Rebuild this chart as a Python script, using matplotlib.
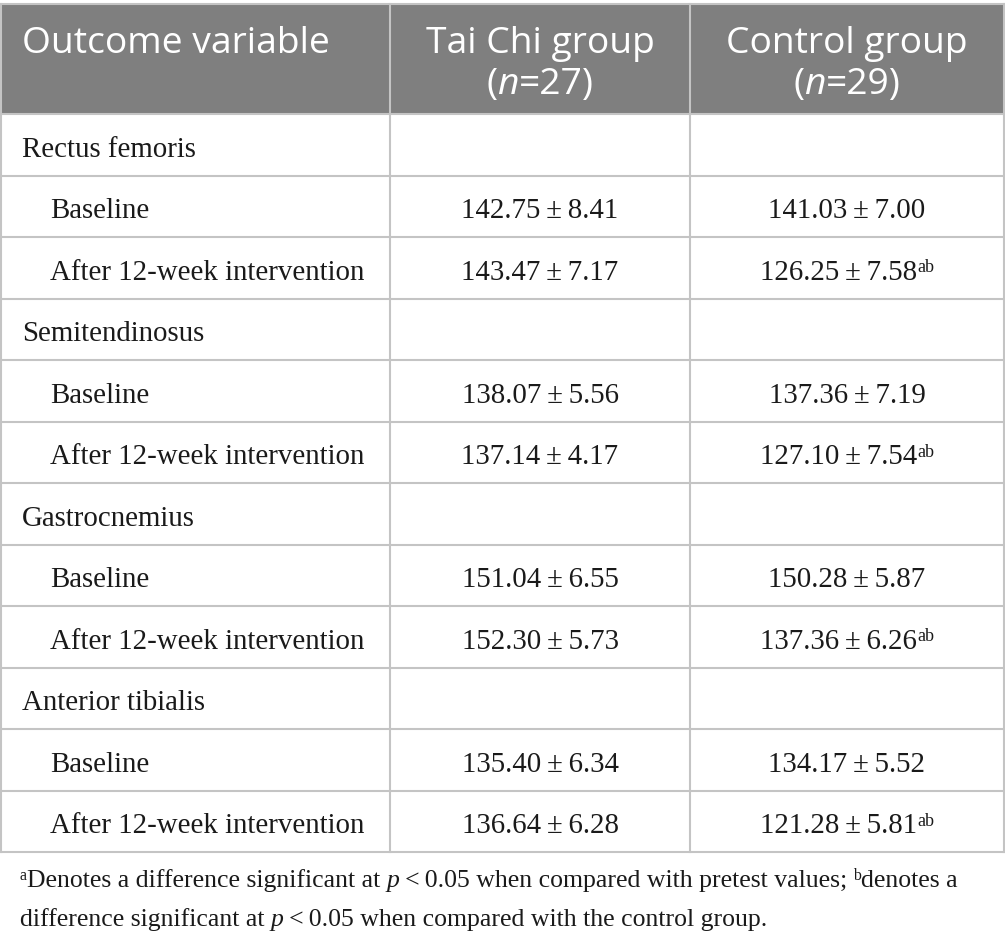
import matplotlib
matplotlib.use("Agg")
import matplotlib.pyplot as plt
from matplotlib.patches import Rectangle

# table content
muscles = ["Rectus femoris", "Semitendinosus", "Gastrocnemius", "Anterior tibialis"]
timepoints = ["Baseline", "After 12-week intervention"]
taichi_mean = [142.75, 143.47, 138.07, 137.14, 151.04, 152.30, 135.40, 136.64]
taichi_sd = [8.41, 7.17, 5.56, 4.17, 6.55, 5.73, 6.34, 6.28]
control_mean = [141.03, 126.25, 137.36, 127.10, 150.28, 137.36, 134.17, 121.28]
control_sd = [7.00, 7.58, 7.19, 7.54, 5.87, 6.26, 5.52, 5.81]
control_sup = ["", "ab", "", "ab", "", "ab", "", "ab"]
header_cols = ["Outcome variable", "Tai Chi group", "Control group"]
header_n = ["", "27", "29"]

W, H = 1005, 941
col_x = [0, 390, 690, 1004]
head_top, head_bot = 4, 114
row_h = 61.5
grid_col = "#c4c4c4"
head_col = "#7f7f7f"

SERIF = ["Liberation Serif", "DejaVu Serif"]
SANS = ["Open Sans", "DejaVu Sans"]

fig = plt.figure(figsize=(W / 100, H / 100), dpi=100)
ax = fig.add_axes([0, 0, 1, 1])
ax.set_xlim(0, W)
ax.set_ylim(H, 0)
ax.axis("off")
renderer = fig.canvas.get_renderer()


def text_width(t):
    bb = t.get_window_extent(renderer=renderer)
    return bb.width


def draw_runs(x, y, runs, ha="left"):
    # runs: list of (string, props, is_superscript)
    pieces = []
    total = 0
    for s, props, sup in runs:
        t = ax.text(0, 0, s, va="baseline", ha="left", **props)
        w = text_width(t)
        pieces.append((t, w, sup, props))
        total += w
    if ha == "center":
        x0 = x - total / 2
    else:
        x0 = x
    for t, w, sup, props in pieces:
        dy = -props.get("fontsize", 10) * 0.6 if sup else 0
        t.set_position((x0, y + dy))
        x0 += w


# header background
ax.add_patch(Rectangle((0, head_top), W, head_bot - head_top, facecolor=head_col,
                       edgecolor="none", zorder=0))

n_rows = len(muscles) * (1 + len(timepoints))
table_bot = head_bot + n_rows * row_h

# grid lines
for i in range(n_rows + 1):
    yy = head_bot + i * row_h
    ax.plot([0, W], [yy, yy], color=grid_col, lw=1.5, zorder=2)
ax.plot([0, W], [head_top, head_top], color=grid_col, lw=1.5, zorder=2)
for xx in col_x:
    xx = min(max(xx, 0.8), W - 0.8)
    ax.plot([xx, xx], [head_top, table_bot], color=grid_col, lw=1.5, zorder=2)

# header text
hfs = 26.8
hdr = dict(color="white", fontsize=hfs, family=SANS)
ax.text(22, 53, header_cols[0], ha="left", va="baseline", **hdr)
for c in (1, 2):
    cx = (col_x[c] + col_x[c + 1]) / 2
    ax.text(cx, 53, header_cols[c], ha="center", va="baseline", **hdr)
    draw_runs(cx, 94, [
        ("(", hdr, False),
        ("n", dict(hdr, style="italic"), False),
        ("=" + header_n[c] + ")", hdr, False),
    ], ha="center")

# body
bfs = 20.8
body = dict(color="#1a1a1a", fontsize=bfs, family=SERIF)
sup_props = dict(color="#1a1a1a", fontsize=bfs * 0.62, family=SERIF)
c1 = (col_x[1] + col_x[2]) / 2
c2 = (col_x[2] + col_x[3]) / 2
r = 0
k = 0
for m in muscles:
    yb = head_bot + (r + 0.5) * row_h + 12
    ax.text(22, yb, m, va="baseline", ha="left", **body)
    r += 1
    for tp in timepoints:
        yb = head_bot + (r + 0.5) * row_h + 12
        ax.text(50, yb, tp, va="baseline", ha="left", **body)
        draw_runs(c1, yb, [(f"{taichi_mean[k]:.2f}\u2009\u00b1\u2009{taichi_sd[k]:.2f}", body, False)],
                  ha="center")
        runs = [(f"{control_mean[k]:.2f}\u2009\u00b1\u2009{control_sd[k]:.2f}", body, False)]
        if control_sup[k]:
            runs.append((control_sup[k], sup_props, True))
        draw_runs(c2, yb, runs, ha="center")
        r += 1
        k += 1

# footnote
ffs = 18.5
fn = dict(color="#1a1a1a", fontsize=ffs, family=SERIF)
fn_i = dict(fn, style="italic")
fn_s = dict(fn, fontsize=ffs * 0.62)
draw_runs(20, 887, [
    ("a", fn_s, True),
    ("Denotes a difference significant at ", fn, False),
    ("p", fn_i, False),
    ("\u2009<\u20090.05 when compared with pretest values; ", fn, False),
    ("b", fn_s, True),
    ("denotes a", fn, False),
])
draw_runs(20, 926, [
    ("difference significant at ", fn, False),
    ("p", fn_i, False),
    ("\u2009<\u20090.05 when compared with the control group.", fn, False),
])

fig.savefig("out.png", dpi=100, facecolor="white")
